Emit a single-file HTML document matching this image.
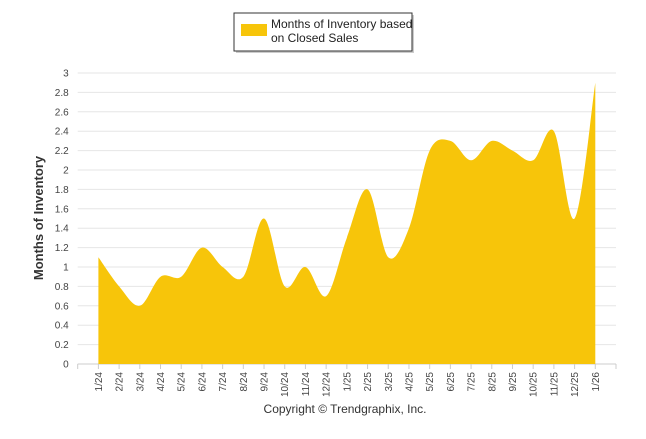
<!DOCTYPE html>
<html><head><meta charset="utf-8"><style>
body{margin:0;background:#fff;font-family:"Liberation Sans",Arial,sans-serif}
</style></head><body>
<svg width="646" height="434" xmlns="http://www.w3.org/2000/svg">
<g>
<rect x="236" y="15" width="178" height="38" fill="#999" opacity="0.5"/>
<rect x="234" y="13" width="178" height="38" fill="#fff" stroke="#333" stroke-width="1"/>
<rect x="241" y="24" width="26" height="12" fill="#f7c50a"/>
<text x="271" y="28" font-size="12" fill="#222">Months of Inventory based</text>
<text x="271" y="42" font-size="12" fill="#222">on Closed Sales</text>
</g>
<g id="grid"></g>
<g id="yticks" font-size="10" fill="#444" text-anchor="end"></g>
<path id="area" fill="#f7c50a"/>
<g id="xaxis" font-size="10" fill="#444"></g>
<text transform="translate(43,218) rotate(-90)" text-anchor="middle" font-size="13" font-weight="bold" fill="#333">Months of Inventory</text>
<text x="345" y="413" text-anchor="middle" font-size="12" fill="#333">Copyright © Trendgraphix, Inc.</text>
</svg>
<script>
const categories=["1/24","2/24","3/24","4/24","5/24","6/24","7/24","8/24","9/24","10/24","11/24","12/24","1/25","2/25","3/25","4/25","5/25","6/25","7/25","8/25","9/25","10/25","11/25","12/25","1/26"];
const values=[1.1,0.8,0.6,0.9,0.9,1.2,1.0,0.9,1.5,0.8,1.0,0.7,1.3,1.8,1.1,1.4,2.2,2.3,2.1,2.3,2.2,2.1,2.4,1.5,2.9];
const yTicks=[0,0.2,0.4,0.6,0.8,1,1.2,1.4,1.6,1.8,2,2.2,2.4,2.6,2.8,3];
const ns="http://www.w3.org/2000/svg";
const L=77.7,R=616,T=73,B=364,yMax=3;
const step=(R-L)/(categories.length+1);
const X=i=>L+(i+1)*step;
const Y=v=>B-(v/yMax)*(B-T);
const grid=document.getElementById('grid'),yt=document.getElementById('yticks'),xa=document.getElementById('xaxis');
yTicks.forEach(t=>{
 const l=document.createElementNS(ns,'line');
 
 
 l.setAttribute('x1',L);l.setAttribute('x2',R);l.setAttribute('y1',Y(t));l.setAttribute('y2',Y(t));
 l.setAttribute('stroke',t===0?'#ccc':'#e6e6e6');l.setAttribute('stroke-width','1');
 grid.appendChild(l);
 const s=document.createElementNS(ns,'text');
 
 
 s.setAttribute('x',L-9);s.setAttribute('y',Y(t)+3.5);s.textContent=String(t);
 yt.appendChild(s);
});
for(let i=0;i<=categories.length+1;i++){
 const x=L+i*step;
 const l=document.createElementNS(ns,'line');
 
 
 l.setAttribute('x1',x);l.setAttribute('x2',x);l.setAttribute('y1',B);l.setAttribute('y2',B+5);l.setAttribute('stroke','#ccc');
 xa.appendChild(l);
}
categories.forEach((c,i)=>{
 const s=document.createElementNS(ns,'text');
 
 
 s.setAttribute('transform','translate('+(X(i)+3.5)+','+(B+8)+') rotate(-90)');
 s.setAttribute('text-anchor','end');s.textContent=c;
 xa.appendChild(s);
});
const pts=values.map((v,i)=>[X(i),Y(v)]);
let d='M'+pts[0][0]+','+B+' L'+pts[0][0]+','+pts[0][1];
const sm=1.5;
for(let i=0;i<pts.length-1;i++){
 const p0=pts[i-1]||pts[i],p1=pts[i],p2=pts[i+1],p3=pts[i+2]||p2;
 const c1=[p1[0]+(p2[0]-p0[0])/(2*sm+1)*0.5*1.0,p1[1]+(p2[1]-p0[1])/6];
 const c2=[p2[0]-(p3[0]-p1[0])/6,p2[1]-(p3[1]-p1[1])/6];
 c1[0]=p1[0]+(p2[0]-p0[0])/6;
 d+=' C'+c1[0]+','+c1[1]+' '+c2[0]+','+c2[1]+' '+p2[0]+','+p2[1];
}
d+=' L'+pts[pts.length-1][0]+','+B+' Z';
document.getElementById('area').setAttribute('d',d);
</script>
</body></html>
